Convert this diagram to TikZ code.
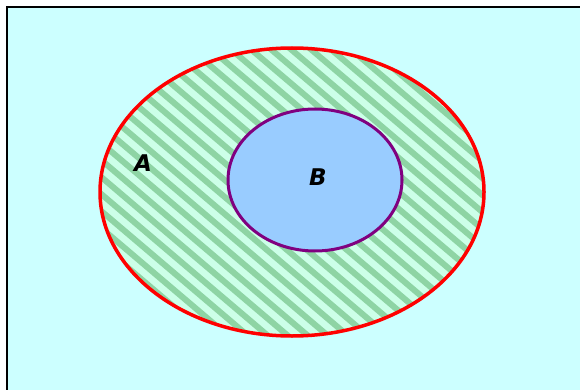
\documentclass[tikz,border=0pt]{standalone}
\usepackage{fontspec}
\newfontfamily\labelfont{DejaVu Sans}
\definecolor{bgcyan}{HTML}{CCFFFF}
\definecolor{mint}{HTML}{CCFFE8}
\definecolor{stripegreen}{HTML}{8ED4A4}
\definecolor{setblue}{HTML}{99CCFF}
\definecolor{setpurple}{HTML}{800080}
\tikzset{
	setlabel/.style={font=\labelfont\bfseries\itshape\fontsize{23}{23}\selectfont},
	stripe/.style={stripegreen,line width=6pt}
}
\begin{document}
\begin{tikzpicture}[x=1pt,y=-1pt]
	\useasboundingbox (0,0) rectangle (580,390);
	% universe
	\fill[bgcyan] (7,7) rectangle (590,400);
	\draw[line width=2pt] (590,7) -- (7,7) -- (7,400);
	% set A with stripes
	\begin{scope}
		\clip (292,192) ellipse (192 and 144);
		\fill[mint] (292,192) ellipse (192 and 144);
		\foreach \x in {-300,-280,...,500}
			\draw[stripe] (\x,40) -- (\x+360,346);
	\end{scope}
	\node[setlabel] (lblA) at (143,163) {A};
	% set B
	\fill[setblue] (315,180) ellipse (87 and 71);
	\node[setlabel] (lblB) at (318,177) {B};
	\draw[red,line width=3.5pt] (292,192) ellipse (192 and 144);
	\draw[setpurple,line width=3pt] (315,180) ellipse (87 and 71);
\end{tikzpicture}
\end{document}
